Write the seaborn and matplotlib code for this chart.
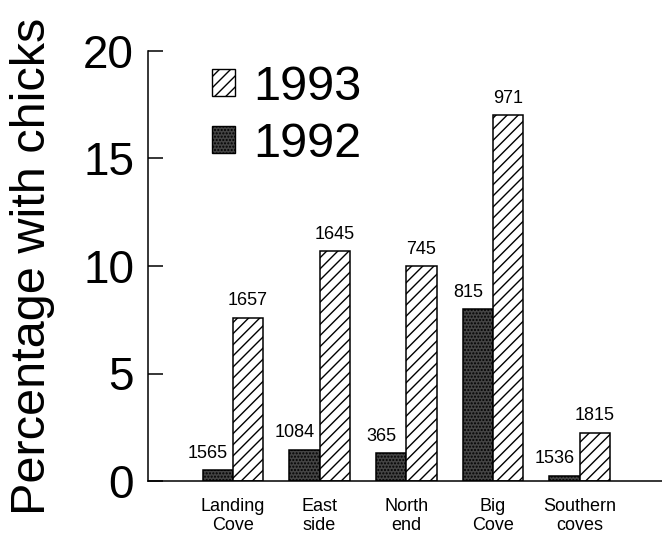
import matplotlib
matplotlib.use("Agg")
import matplotlib.pyplot as plt
import seaborn as sns
import pandas as pd
from matplotlib.patches import Patch

# Nesting areas and breeding seasons
sites = ["Landing\nCove", "East\nside", "North\nend", "Big\nCove", "Southern\ncoves"]
years = ["1992", "1993"]

# Percentage of nests with chicks
pct_1992 = [0.5, 1.45, 1.3, 8.0, 0.25]
pct_1993 = [7.6, 10.7, 10.0, 17.0, 2.25]

# Number of nests checked
n_1992 = [1565, 1084, 365, 815, 1536]
n_1993 = [1657, 1645, 745, 971, 1815]

y_ticks = [0, 5, 10, 15, 20]

df = pd.DataFrame({
    "site": sites * 2,
    "year": [years[0]] * len(sites) + [years[1]] * len(sites),
    "pct": pct_1992 + pct_1993,
})

sns.set_style("ticks")
plt.rcParams["font.family"] = ["Liberation Sans", "DejaVu Sans"]
plt.rcParams["hatch.linewidth"] = 1.0
for key in ("text.color", "axes.labelcolor", "xtick.color", "ytick.color",
            "axes.edgecolor"):
    plt.rcParams[key] = "black"

DARK = "#444444"
STIPPLE = "....."
STRIPES = "///"

fig = plt.figure(figsize=(6.62, 5.42), dpi=100)
ax = fig.add_axes([148 / 662, 1 - 481 / 542, 514 / 662, 430 / 542])

sns.barplot(data=df, x="site", y="pct", hue="year", order=sites,
            hue_order=years, width=0.7, palette=[DARK, "white"],
            edgecolor="black", linewidth=1.1, saturation=1,
            errorbar=None, legend=False, ax=ax)

bars92, bars93 = ax.containers[0], ax.containers[1]
for p in bars92:
    p.set_hatch(STIPPLE)
for p in bars93:
    p.set_hatch(STRIPES)

# sample sizes above the bars
for bars, counts, dx in ((bars92, n_1992, -7), (bars93, n_1993, 0)):
    for p, n in zip(bars, counts):
        ax.annotate(str(n), (p.get_x() + p.get_width() / 2, p.get_height()),
                    xytext=(dx, 6), textcoords="offset points",
                    ha="center", va="bottom", fontsize=13, color="black")

ax.set_ylim(0, 20)
ax.set_xlim(-0.98, 4.95)
ax.set_yticks(y_ticks)
ax.set_yticklabels([str(t) for t in y_ticks])
ax.tick_params(axis="y", direction="in", length=11, width=1.1,
               labelsize=33, pad=10, colors="black")
ax.tick_params(axis="x", length=0, labelsize=13, pad=12, colors="black")
for lab in ax.get_xticklabels():
    lab.set_linespacing(1.2)

for side in ("top", "right"):
    ax.spines[side].set_visible(False)
for side in ("left", "bottom"):
    ax.spines[side].set_linewidth(1.1)
    ax.spines[side].set_color("black")

ax.set_xlabel("")
ax.set_ylabel("Percentage with chicks", fontsize=35, color="black")
ax.yaxis.set_label_coords(-0.181, 0.5)

handles = [Patch(facecolor="white", edgecolor="black", hatch=STRIPES),
           Patch(facecolor=DARK, edgecolor="black", hatch=STIPPLE)]
leg = ax.legend(handles, ["1993", "1992"], loc="upper left",
                bbox_to_anchor=(0.125, 0.968), frameon=False, fontsize=35,
                handlelength=0.47, handleheight=0.47, handletextpad=0.37,
                labelspacing=0.25, borderpad=0, borderaxespad=0)
for t in leg.get_texts():
    t.set_color("black")

fig.savefig("out.png", dpi=100)
